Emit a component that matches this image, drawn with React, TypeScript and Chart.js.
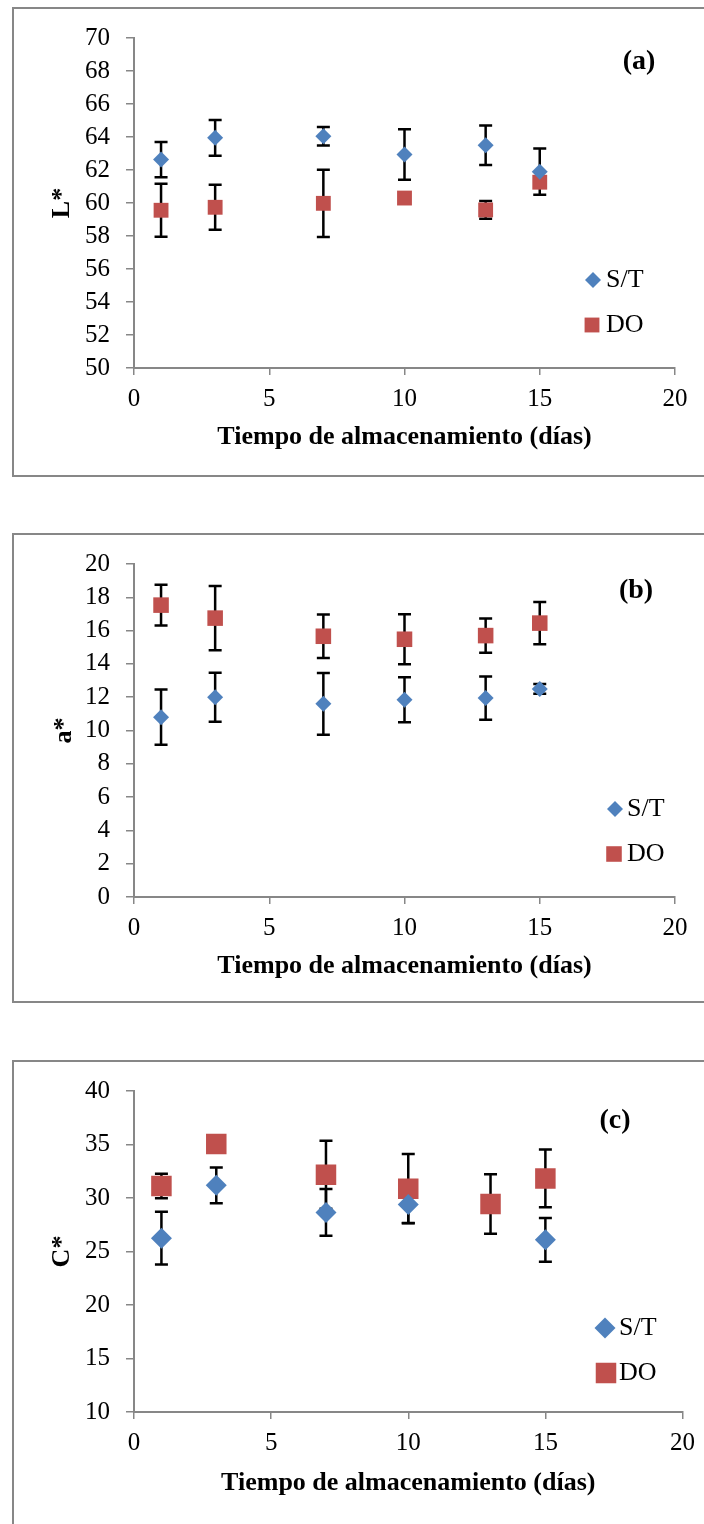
import React, { useEffect, useRef } from 'react';
import { Chart, registerables } from 'chart.js';

Chart.register(...registerables);

// ---------- data ----------
const days = [1, 3, 7, 10, 13, 15];
const seriesNames = ['S/T', 'DO'];

// Panel (a) L*
const lST = [62.63, 63.95, 64.05, 62.94, 63.5, 61.9];
const lSTErr = [1.07, 1.08, 0.56, 1.53, 1.2, 1.4];
const lDO = [59.56, 59.74, 59.98, 60.3, 59.58, 61.26];
const lDOErr = [1.6, 1.36, 2.04, 0.2, 0.54, 0.3];
const lTicks = { min: 50, max: 70, step: 2 };

// Panel (b) a*
const aST = [10.8, 12.0, 11.6, 11.85, 11.95, 12.5];
const aSTErr = [1.66, 1.47, 1.85, 1.35, 1.3, 0.3];
const aDO = [17.53, 16.75, 15.66, 15.48, 15.7, 16.45];
const aDOErr = [1.22, 1.93, 1.3, 1.5, 1.03, 1.27];
const aTicks = { min: 0, max: 20, step: 2 };

// Panel (c) C*
const cST = [26.25, 31.18, 28.65, 29.39, null, 26.09];
const cSTErr = [2.47, 1.66, 2.18, 1.73, null, 2.05];
const cDO = [31.12, 35.04, 32.17, 30.87, 29.45, 31.83];
const cDOErr = [1.14, 0.25, 3.17, 3.24, 2.78, 2.7];
const cTicks = { min: 10, max: 40, step: 5 };

const xTicks = { min: 0, max: 20, step: 5 };
const xTitle = 'Tiempo de almacenamiento (días)';

const BLUE = '#4F81BD';
const RED = '#C0504D';
const AXIS = '#878787';
const FONT = "'Liberation Serif', 'Times New Roman', serif";
const TICK_SIZE = 25;
const TITLE_SIZE = 26;
const LEGEND_SIZE = 26;
const LABEL_SIZE = 28;

type PanelCfg = {
  top: number;
  yTitle: string;
  label: string;
  st: (number | null)[];
  stErr: (number | null)[];
  dO: (number | null)[];
  dOErr: (number | null)[];
  yt: { min: number; max: number; step: number };
  padRight: number;
  padTop: number;
  xAxisH: number;
  xTitlePad: number;
  yTitlePad: number;
  rST: number;
  rDO: number;
  labelPos: [number, number];
  legST: [number, number];
  legDO: [number, number];
  legTextX: number;
};

const panels: PanelCfg[] = [
  {
    top: 7, yTitle: 'L*', label: '(a)', st: lST, stErr: lSTErr, dO: lDO, dOErr: lDOErr, yt: lTicks,
    padRight: 29, padTop: 28, xAxisH: 109, xTitlePad: 24, yTitlePad: 47,
    rST: 8, rDO: 10.5, labelPos: [639, 55], legST: [593, 273], legDO: [592, 318], legTextX: 606,
  },
  {
    top: 533, yTitle: 'a*', label: '(b)', st: aST, stErr: aSTErr, dO: aDO, dOErr: aDOErr, yt: aTicks,
    padRight: 29, padTop: 29, xAxisH: 106, xTitlePad: 21, yTitlePad: 49,
    rST: 8, rDO: 11, labelPos: [636, 58], legST: [615, 276], legDO: [614, 321], legTextX: 627,
  },
  {
    top: 1060, yTitle: 'C*', label: '(c)', st: cST, stErr: cSTErr, dO: cDO, dOErr: cDOErr, yt: cTicks,
    padRight: 17, padTop: 28, xAxisH: 118, xTitlePad: 31, yTitlePad: 47,
    rST: 10.5, rDO: 14.5, labelPos: [615, 61], legST: [605, 268], legDO: [606, 313], legTextX: 619,
  },
];

const errorBarPlugin = {
  id: 'errorBars',
  beforeDatasetsDraw(chart: any) {
    const { ctx } = chart;
    const xs = chart.scales.x;
    const ys = chart.scales.y;
    ctx.save();
    ctx.strokeStyle = '#000';
    ctx.lineWidth = 2.5;
    chart.data.datasets.forEach((ds: any) => {
      ds.data.forEach((p: any, i: number) => {
        const e = ds.errors[i];
        if (!p || p.y == null || e == null) return;
        const x = xs.getPixelForValue(p.x);
        const yTop = ys.getPixelForValue(p.y + e);
        const yBot = ys.getPixelForValue(p.y - e);
        const cap = 6.5;
        ctx.beginPath();
        ctx.moveTo(x, yTop);
        ctx.lineTo(x, yBot);
        ctx.moveTo(x - cap, yTop);
        ctx.lineTo(x + cap, yTop);
        ctx.moveTo(x - cap, yBot);
        ctx.lineTo(x + cap, yBot);
        ctx.stroke();
      });
    });
    ctx.restore();
  },
};

const overlayPlugin = {
  id: 'overlay',
  afterDraw(chart: any, _args: any, opts: any) {
    const { ctx } = chart;
    ctx.save();
    ctx.fillStyle = '#000';
    ctx.textBaseline = 'middle';
    ctx.font = `bold ${LABEL_SIZE}px ${FONT}`;
    ctx.textAlign = 'center';
    ctx.fillText(opts.label, opts.labelPos[0], opts.labelPos[1]);
    // legend
    const [dx, dy] = opts.legST;
    const r1 = opts.rST;
    ctx.fillStyle = BLUE;
    ctx.beginPath();
    ctx.moveTo(dx, dy - r1);
    ctx.lineTo(dx + r1, dy);
    ctx.lineTo(dx, dy + r1);
    ctx.lineTo(dx - r1, dy);
    ctx.closePath();
    ctx.fill();
    const [sx, sy] = opts.legDO;
    const h = opts.rDO * Math.SQRT1_2;
    ctx.fillStyle = RED;
    ctx.fillRect(sx - h, sy - h, 2 * h, 2 * h);
    ctx.fillStyle = '#000';
    ctx.font = `${LEGEND_SIZE}px ${FONT}`;
    ctx.textAlign = 'left';
    ctx.fillText(opts.names[0], opts.legTextX, dy);
    ctx.fillText(opts.names[1], opts.legTextX, sy);
    ctx.restore();
  },
};

function Panel({ cfg }: { cfg: PanelCfg }) {
  const ref = useRef<HTMLCanvasElement | null>(null);
  useEffect(() => {
    if (!ref.current) return;
    const mk = (vals: (number | null)[]) =>
      days.map((d, i) => (vals[i] == null ? null : { x: d, y: vals[i] as number })).filter((p) => p !== null);
    const mkErr = (vals: (number | null)[], errs: (number | null)[]) =>
      days.map((_, i) => (vals[i] == null ? null : errs[i])).filter((_, i) => vals[i] != null);
    const chart = new Chart(ref.current, {
      type: 'scatter',
      data: {
        datasets: [
          {
            label: seriesNames[0],
            data: mk(cfg.st) as any,
            errors: mkErr(cfg.st, cfg.stErr),
            pointStyle: 'rectRot',
            pointRadius: cfg.rST,
            pointBackgroundColor: BLUE,
            pointBorderColor: BLUE,
            pointBorderWidth: 0,
            showLine: false,
          } as any,
          {
            label: seriesNames[1],
            data: mk(cfg.dO) as any,
            errors: mkErr(cfg.dO, cfg.dOErr),
            pointStyle: 'rect',
            pointRadius: cfg.rDO,
            pointBackgroundColor: RED,
            pointBorderColor: RED,
            pointBorderWidth: 0,
            showLine: false,
          } as any,
        ],
      },
      options: {
        animation: false,
        responsive: false,
        events: [],
        layout: { padding: { left: 0, right: cfg.padRight, top: cfg.padTop, bottom: 0 } },
        plugins: {
          legend: { display: false },
          tooltip: { enabled: false },
          overlay: {
            label: cfg.label,
            labelPos: cfg.labelPos,
            legST: cfg.legST,
            legDO: cfg.legDO,
            legTextX: cfg.legTextX,
            rST: cfg.rST,
            rDO: cfg.rDO,
            names: seriesNames,
          },
        } as any,
        scales: {
          x: {
            type: 'linear',
            min: xTicks.min,
            max: xTicks.max,
            afterFit: (s: any) => {
              s.height = cfg.xAxisH;
            },
            ticks: {
              stepSize: xTicks.step,
              color: '#000',
              font: { family: FONT, size: TICK_SIZE },
              padding: 9,
              maxRotation: 0,
            },
            grid: { drawOnChartArea: false, drawTicks: true, tickLength: 7, color: AXIS, lineWidth: 1.5 },
            border: { color: AXIS, width: 2 },
            title: {
              display: true,
              text: xTitle,
              color: '#000',
              font: { family: FONT, size: TITLE_SIZE, weight: 'bold' },
              padding: { top: 0, bottom: cfg.xTitlePad },
            },
          },
          y: {
            type: 'linear',
            min: cfg.yt.min,
            max: cfg.yt.max,
            afterFit: (s: any) => {
              s.width = 134;
            },
            ticks: {
              stepSize: cfg.yt.step,
              color: '#000',
              font: { family: FONT, size: TICK_SIZE },
              padding: 16,
            },
            grid: { drawOnChartArea: false, drawTicks: true, tickLength: 8, color: AXIS, lineWidth: 1.5 },
            border: { color: AXIS, width: 2 },
            title: {
              display: true,
              text: cfg.yTitle,
              color: '#000',
              font: { family: FONT, size: TITLE_SIZE, weight: 'bold' },
              padding: { top: cfg.yTitlePad, bottom: 0 },
            },
          },
        },
      } as any,
      plugins: [errorBarPlugin, overlayPlugin],
    });
    return () => chart.destroy();
  }, [cfg]);

  return (
    <div style={{ position: 'absolute', left: 0, top: cfg.top, width: 704, height: 470 }}>
      <div
        style={{
          position: 'absolute',
          left: 12,
          top: 0,
          width: 710,
          height: 470,
          boxSizing: 'border-box',
          border: `2px solid ${AXIS}`,
        }}
      />
      <canvas ref={ref} width={704} height={470} style={{ position: 'absolute', left: 0, top: 0 }} />
    </div>
  );
}

export default function App() {
  return (
    <div
      style={{
        position: 'fixed',
        left: 0,
        top: 0,
        width: 704,
        height: 1524,
        overflow: 'hidden',
        background: '#fff',
      }}
    >
      {panels.map((p) => (
        <Panel key={p.label} cfg={p} />
      ))}
    </div>
  );
}
